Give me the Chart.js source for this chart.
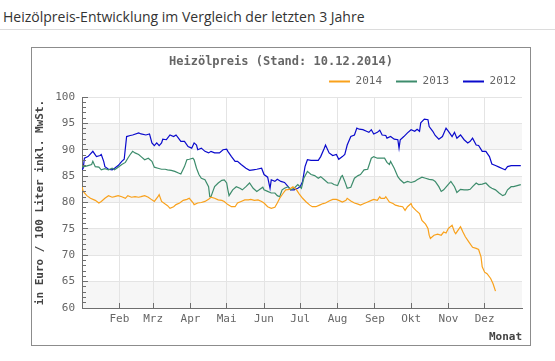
<!DOCTYPE html>
<html lang="de">
<head>
<meta charset="utf-8">
<title>Heizölpreis</title>
<script src="https://cdn.jsdelivr.net/npm/chart.js@4.4.1/dist/chart.umd.min.js"></script>
<style>
  body { margin: 0; background: #fff; width: 555px; height: 361px; overflow: hidden; position: relative; }
  #heading { position: absolute; left: 0; top: 0; width: 555px; height: 29px; border-bottom: 1px solid #dcdcdc; }
  #heading h1 { margin: 0; position: absolute; left: 3px; top: 7px; font: normal 14px 'Open Sans', sans-serif; color: #333; white-space: nowrap; }
  #box { position: absolute; left: 31px; top: 47px; width: 498px; height: 297px; border: 1px solid #8c8c8c; }
  #box canvas { display: block; }
</style>
</head>
<body>
<div id="heading"><h1>Heizölpreis-Entwicklung im Vergleich der letzten 3 Jahre</h1></div>
<div id="box"><canvas id="heizoelChart" width="498" height="297"></canvas></div>
<script>
// day of year -> month label (first of month, 2014)
const monthStarts = [31, 59, 90, 120, 151, 181, 212, 243, 273, 304, 334]
const monthLabels = ['Feb', 'Mrz', 'Apr', 'Mai', 'Jun', 'Jul', 'Aug', 'Sep', 'Okt', 'Nov', 'Dez']

const seriesLabels = ['2014', '2013', '2012']

// Euro / 100 Liter (x = day of year)
const days2014 = [0, 1, 4, 7, 11, 14, 16, 19, 22, 25, 27, 30, 33, 36, 38, 41, 44, 47, 49, 52, 55, 58, 60, 63, 64, 66, 69, 71, 73, 76, 78, 81, 84, 87, 89, 92, 93, 96, 99, 102, 105, 107, 110, 113, 116, 118, 121, 124, 127, 129, 132, 135, 138, 140, 143, 146, 149, 151, 154, 157, 160, 162, 164, 167, 169, 172, 175, 178, 180, 183, 186, 189, 191, 194, 197, 200, 202, 205, 208, 211, 213, 216, 219, 220, 223, 226, 229, 231, 234, 237, 240, 242, 245, 247, 248, 251, 252, 255, 258, 260, 263, 266, 268, 270, 273, 274, 277, 280, 282, 285, 287, 288, 289, 292, 295, 298, 300, 302, 304, 307, 309, 310, 313, 314, 316, 318, 321, 324, 327, 329, 331, 332, 334, 336, 339, 341, 343]
const prices2014 = [83.0, 82.1, 81.3, 80.8, 80.4, 79.9, 80.2, 80.8, 81.3, 81.0, 81.1, 81.3, 81.1, 80.8, 81.3, 81.0, 81.1, 81.0, 81.1, 81.3, 81.0, 80.5, 80.2, 81.1, 81.5, 80.2, 79.7, 79.4, 78.9, 79.2, 79.6, 79.9, 80.4, 80.6, 80.8, 80.0, 79.6, 79.9, 80.0, 80.2, 80.6, 81.0, 80.8, 80.5, 80.4, 80.2, 79.6, 79.2, 79.2, 79.9, 80.2, 80.5, 80.5, 80.6, 80.4, 80.5, 80.2, 79.9, 79.2, 78.9, 79.1, 79.9, 80.8, 81.8, 82.4, 82.5, 83.0, 82.4, 81.7, 80.8, 80.1, 79.5, 79.2, 79.2, 79.5, 79.8, 79.9, 80.3, 80.6, 80.6, 80.4, 80.1, 80.4, 80.8, 80.3, 79.9, 79.7, 79.5, 79.8, 80.1, 80.4, 80.6, 80.4, 81.1, 80.8, 80.8, 81.1, 80.1, 79.8, 79.5, 79.3, 79.2, 78.5, 79.2, 79.8, 79.2, 78.5, 77.9, 76.6, 75.9, 75.1, 73.8, 73.2, 73.8, 74.0, 73.8, 74.4, 74.2, 75.1, 75.7, 74.4, 74.1, 75.1, 75.4, 74.4, 73.5, 72.5, 71.5, 71.3, 71.1, 69.7, 67.8, 66.8, 66.5, 65.6, 64.6, 63.2]

const days2013 = [0, 2, 5, 8, 9, 11, 14, 16, 19, 22, 25, 27, 30, 33, 36, 38, 40, 42, 44, 47, 49, 52, 55, 58, 60, 63, 66, 69, 71, 74, 77, 80, 82, 85, 87, 89, 92, 93, 95, 97, 99, 102, 105, 106, 107, 109, 110, 113, 116, 118, 120, 121, 122, 125, 128, 131, 133, 136, 139, 142, 145, 147, 150, 151, 154, 157, 160, 162, 164, 166, 168, 171, 173, 176, 179, 182, 184, 187, 190, 193, 196, 198, 201, 204, 207, 209, 212, 215, 216, 218, 220, 223, 226, 229, 231, 234, 237, 240, 242, 245, 248, 251, 253, 255, 256, 259, 262, 264, 267, 270, 273, 276, 278, 282, 285, 288, 291, 293, 296, 298, 300, 303, 306, 309, 311, 314, 317, 320, 322, 324, 327, 329, 332, 335, 338, 340, 343, 346, 349, 351, 353, 356, 358, 361, 364]
const prices2013 = [86.8, 86.8, 87.0, 87.2, 87.8, 86.8, 86.7, 86.2, 86.4, 86.2, 86.5, 86.2, 86.7, 87.2, 87.6, 88.4, 89.1, 89.7, 89.4, 89.1, 88.7, 88.1, 88.4, 87.8, 86.7, 86.5, 86.3, 86.3, 86.2, 86.1, 85.9, 85.6, 85.4, 86.8, 88.1, 88.2, 88.4, 88.1, 86.5, 85.3, 84.6, 84.3, 83.0, 81.1, 81.1, 82.4, 83.0, 83.7, 84.2, 84.3, 83.7, 82.4, 81.3, 82.4, 83.0, 82.7, 82.4, 83.0, 83.7, 82.7, 82.1, 82.4, 82.9, 82.4, 82.1, 81.8, 81.8, 81.3, 81.1, 82.4, 82.7, 83.0, 82.4, 82.7, 83.4, 82.7, 84.6, 85.9, 85.3, 85.1, 84.6, 84.9, 84.3, 83.7, 83.7, 83.4, 83.2, 84.9, 85.1, 84.0, 82.7, 82.9, 84.6, 85.1, 85.3, 86.2, 86.3, 88.4, 88.7, 88.4, 88.4, 88.4, 87.6, 87.2, 87.8, 86.5, 84.9, 84.3, 83.7, 84.0, 83.8, 84.0, 84.3, 84.8, 84.6, 84.4, 84.3, 84.0, 83.0, 82.1, 82.4, 83.2, 84.0, 83.0, 81.9, 82.5, 82.4, 82.4, 82.5, 83.0, 83.7, 83.4, 83.5, 83.7, 83.0, 82.7, 82.4, 81.8, 81.3, 81.5, 82.4, 83.0, 83.0, 83.2, 83.4]

const days2012 = [0, 1, 2, 5, 9, 12, 15, 16, 18, 19, 22, 25, 27, 30, 33, 35, 37, 40, 42, 47, 49, 53, 56, 58, 60, 62, 64, 66, 67, 70, 73, 76, 78, 80, 82, 85, 88, 91, 93, 95, 96, 99, 102, 105, 107, 110, 114, 117, 120, 121, 124, 127, 129, 132, 136, 139, 142, 145, 149, 151, 154, 156, 157, 160, 162, 165, 168, 171, 173, 176, 179, 181, 183, 185, 187, 190, 193, 196, 198, 201, 202, 205, 208, 211, 213, 216, 218, 220, 223, 226, 228, 230, 233, 236, 238, 240, 242, 245, 247, 249, 252, 253, 256, 259, 262, 263, 264, 267, 270, 273, 276, 278, 280, 281, 284, 287, 288, 291, 293, 296, 299, 302, 304, 307, 309, 311, 314, 317, 320, 322, 324, 327, 329, 332, 335, 338, 340, 343, 346, 349, 351, 353, 356, 358, 361, 364]
const prices2012 = [86.2, 86.5, 88.4, 88.7, 89.7, 88.7, 88.9, 89.1, 87.8, 86.8, 86.3, 86.2, 86.5, 87.0, 87.8, 88.2, 92.5, 92.7, 92.8, 93.2, 93.0, 92.8, 93.0, 91.3, 90.8, 91.3, 90.8, 91.3, 92.0, 91.9, 92.8, 92.5, 92.8, 92.2, 91.6, 91.6, 90.6, 90.3, 91.3, 90.9, 90.0, 90.3, 89.7, 89.4, 89.7, 89.4, 89.4, 90.0, 90.1, 89.7, 88.7, 87.8, 87.8, 87.2, 86.5, 86.1, 86.2, 86.3, 86.5, 85.3, 84.8, 82.7, 84.3, 84.0, 84.4, 84.0, 83.8, 83.0, 82.4, 82.4, 82.7, 83.0, 84.0, 86.8, 88.1, 88.0, 88.0, 88.0, 88.7, 90.3, 90.9, 89.4, 88.9, 89.1, 88.2, 88.7, 89.1, 90.9, 92.5, 92.8, 94.1, 93.9, 93.8, 93.5, 93.3, 93.8, 93.0, 93.3, 93.7, 92.8, 92.7, 92.2, 92.5, 92.0, 91.9, 90.3, 91.9, 92.5, 93.2, 93.8, 93.5, 93.9, 93.5, 95.1, 95.8, 95.7, 94.4, 93.5, 92.7, 92.0, 92.5, 94.1, 93.5, 92.5, 93.3, 92.2, 92.8, 91.9, 91.3, 91.6, 92.2, 90.9, 90.8, 89.7, 89.7, 88.7, 87.3, 87.0, 86.7, 86.4, 86.2, 86.8, 87.0, 87.0, 87.0, 87.0]

const colors = ['#f9a11b', '#3d8c6c', '#0a0acc']
const monoFont = "'DejaVu Sans Mono', monospace"

const toPoints = (days, prices) => days.map((d, i) => ({ x: d, y: prices[i] }))

// grey bands behind the grid, minor ticks pointing into the plot
const plotDecor = {
  id: 'plotDecor',
  beforeDraw(chart) {
    const { ctx, chartArea, scales } = chart
    ctx.save()
    ctx.fillStyle = '#f6f6f6'
    for (let v = scales.y.min; v < scales.y.max; v += 10) {
      const top = scales.y.getPixelForValue(v + 5)
      const bottom = scales.y.getPixelForValue(v)
      ctx.fillRect(chartArea.left, top, chartArea.right - chartArea.left, bottom - top)
    }
    ctx.restore()
  },
  afterDraw(chart) {
    const { ctx, chartArea, scales } = chart
    const align = (p) => Math.round(p - 0.5) + 0.5
    ctx.save()
    ctx.strokeStyle = '#6e6e6e'
    ctx.lineWidth = 1
    ctx.beginPath()
    for (let v = scales.y.min; v <= scales.y.max; v++) {
      const py = align(scales.y.getPixelForValue(v))
      ctx.moveTo(chartArea.left, py)
      ctx.lineTo(chartArea.left + (v % 5 === 0 ? 6 : 4), py)
    }
    monthStarts.forEach((d) => {
      const px = align(scales.x.getPixelForValue(d))
      ctx.moveTo(px, chartArea.bottom)
      ctx.lineTo(px, chartArea.bottom - 5)
    })
    ctx.stroke()
    ctx.restore()
  }
}

new Chart(document.getElementById('heizoelChart'), {
  type: 'line',
  data: {
    datasets: [
      { label: seriesLabels[0], data: toPoints(days2014, prices2014) },
      { label: seriesLabels[1], data: toPoints(days2013, prices2013) },
      { label: seriesLabels[2], data: toPoints(days2012, prices2012) }
    ].map((ds, i) => ({
      ...ds,
      borderColor: colors[i],
      backgroundColor: colors[i],
      borderWidth: 1.2,
      pointRadius: 0,
      tension: 0
    }))
  },
  options: {
    responsive: false,
    animation: false,
    events: [],
    plugins: {
      title: {
        display: true,
        text: 'Heizölpreis (Stand: 10.12.2014)',
        color: '#666',
        font: { family: monoFont, size: 12, weight: 'bold' },
        padding: { top: 5, bottom: -7.5 }
      },
      legend: {
        align: 'end',
        labels: {
          color: '#666',
          font: { family: monoFont, size: 11 },
          boxWidth: 21,
          boxHeight: 2,
          padding: 14,
          generateLabels: (chart) =>
            Chart.defaults.plugins.legend.labels
              .generateLabels(chart)
              .map((l) => ({ ...l, lineWidth: 0 }))
        }
      },
      tooltip: { enabled: false }
    },
    scales: {
      x: {
        type: 'linear',
        min: 0,
        max: 365,
        afterBuildTicks: (scale) => {
          scale.ticks = monthStarts.map((v) => ({ value: v }))
        },
        afterFit: (scale) => {
          scale.height = 37
          scale.paddingRight = 8
        },
        ticks: {
          autoSkip: false,
          maxRotation: 0,
          padding: 5,
          color: '#666',
          font: { family: monoFont, size: 11 },
          callback: (value, index) => monthLabels[index]
        },
        grid: { color: '#e4e4e4', drawTicks: false },
        border: { color: '#6e6e6e' },
        title: {
          display: true,
          text: 'Monat',
          align: 'end',
          color: '#444',
          font: { family: monoFont, size: 11, weight: 'bold' },
          padding: { top: 0, bottom: 1.4 }
        }
      },
      y: {
        min: 60,
        max: 100,
        afterFit: (scale) => {
          scale.width = 50
          scale.paddingTop = 49
        },
        ticks: {
          stepSize: 5,
          padding: 7,
          color: '#666',
          font: { family: monoFont, size: 11 }
        },
        grid: { color: '#e4e4e4', drawTicks: false },
        border: { color: '#6e6e6e' },
        title: {
          display: true,
          text: 'in Euro / 100 Liter inkl. MwSt.',
          color: '#444',
          font: { family: monoFont, size: 11, weight: 'bold' },
          padding: { top: 1.4, bottom: 0 }
        }
      }
    }
  },
  plugins: [plotDecor]
})
</script>
</body>
</html>
